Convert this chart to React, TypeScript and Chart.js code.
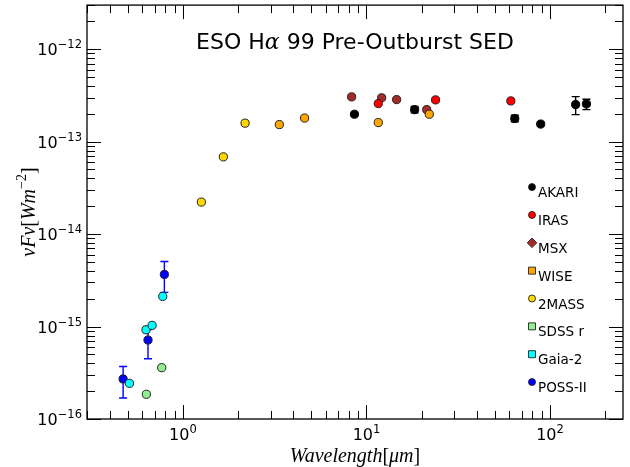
import React, { useEffect, useRef } from "react";
import { Chart, registerables } from "chart.js";

Chart.register(...registerables);

// ---- axis limits and tick labels ----
const xLimits = [0.3, 250];
const yLimits = [1e-16, 3e-12];
const xMajorTicks = [1, 10, 100];
const xTickExponents = ["0", "1", "2"];
const yMajorTicks = [1e-16, 1e-15, 1e-14, 1e-13, 1e-12];
const yTickExponents = ["\u221216", "\u221215", "\u221214", "\u221213", "\u221212"];

// ---- series (wavelength in micron, nuFnu in W m^-2) ----
const akariWl = [8.6, 18.3, 64.3, 89, 138, 158];
const akariFlux = [1.98e-13, 2.22e-13, 1.78e-13, 1.55e-13, 2.52e-13, 2.56e-13];
const akariErrLow = [null, 2.05e-13, 1.64e-13, null, 1.96e-13, 2.22e-13];
const akariErrHigh = [null, 2.4e-13, 1.93e-13, null, 3.07e-13, 2.88e-13];

const irasWl = [11.6, 23.8, 61.2];
const irasFlux = [2.58e-13, 2.83e-13, 2.76e-13];

const msxWl = [8.3, 12.1, 14.6, 21.3];
const msxFlux = [3.05e-13, 2.98e-13, 2.85e-13, 2.22e-13];

const wiseWl = [3.35, 4.6, 11.6, 22.0];
const wiseFlux = [1.53e-13, 1.8e-13, 1.61e-13, 1.98e-13];

const tmassWl = [1.26, 1.66, 2.18];
const tmassFlux = [2.22e-14, 6.85e-14, 1.585e-13];

const sdssWl = [0.632, 0.766];
const sdssFlux = [1.85e-16, 3.59e-16];

const gaiaWl = [0.511, 0.629, 0.679, 0.776];
const gaiaFlux = [2.43e-16, 9.23e-16, 1.03e-15, 2.12e-15];

const possWl = [0.472, 0.645, 0.792];
const possFlux = [2.71e-16, 7.15e-16, 3.66e-15];
const possErrLow = [1.69e-16, 4.49e-16, 2.34e-15];
const possErrHigh = [3.7e-16, 9.3e-16, 5.06e-15];

const seriesLabels = ["AKARI", "IRAS", "MSX", "WISE", "2MASS", "SDSS r", "Gaia-2", "POSS-II"];
const seriesColors = ["#000000", "#ff0000", "#a52a2a", "#ffa500", "#ffd700", "#90ee90", "#00ffff", "#0000ff"];
const legendShapes = ["circle", "circle", "diamond", "square", "circle", "square", "square", "circle"];
const drawOrder = [2, 1, 6, 3, 4, 5, 4, 7];

const seriesWl = [akariWl, irasWl, msxWl, wiseWl, tmassWl, sdssWl, gaiaWl, possWl];
const seriesFlux = [akariFlux, irasFlux, msxFlux, wiseFlux, tmassFlux, sdssFlux, gaiaFlux, possFlux];

const errorBarSets = [
  { index: 0, low: akariErrLow, high: akariErrHigh },
  { index: 7, low: possErrLow, high: possErrHigh },
];

const titleParts = ["ESO H", "\u03b1", " 99 Pre-Outburst SED"];

const SANS = "'DejaVu Sans', sans-serif";
const SERIF_IT = "italic 20px 'Liberation Serif', serif";
const SERIF_UP = "20px 'Liberation Serif', serif";

function drawPow(ctx: CanvasRenderingContext2D, x: number, y: number, exp: string, align: string) {
  const base = "10";
  ctx.font = `16px ${SANS}`;
  const wb = ctx.measureText(base).width;
  ctx.font = `11.5px ${SANS}`;
  const we = ctx.measureText(exp).width;
  const total = wb + we;
  let x0 = x;
  if (align === "center") x0 = x - total / 2;
  else if (align === "right") x0 = x - total;
  ctx.textAlign = "left";
  ctx.textBaseline = "alphabetic";
  ctx.font = `16px ${SANS}`;
  ctx.fillText(base, x0, y);
  ctx.font = `11.5px ${SANS}`;
  ctx.fillText(exp, x0 + wb, y - 7);
}

function tickValues(min: number, max: number) {
  const out: { v: number; major: boolean }[] = [];
  const e0 = Math.floor(Math.log10(min));
  const e1 = Math.ceil(Math.log10(max));
  for (let e = e0; e <= e1; e++) {
    for (let m = 1; m <= 9; m++) {
      const v = m * Math.pow(10, e);
      if (v >= min * (1 - 1e-9) && v <= max * (1 + 1e-9)) out.push({ v, major: m === 1 });
    }
  }
  return out;
}

const errorBarPlugin = {
  id: "errorBars",
  beforeDatasetsDraw(chart: any) {
    const ctx = chart.ctx;
    const xs = chart.scales.x;
    const ys = chart.scales.y;
    ctx.save();
    errorBarSets.forEach((set) => {
      const color = seriesColors[set.index];
      const wl = seriesWl[set.index];
      ctx.strokeStyle = color;
      ctx.lineWidth = 1.4;
      wl.forEach((w, i) => {
        const lo = set.low[i];
        const hi = set.high[i];
        if (lo == null || hi == null) return;
        const px = xs.getPixelForValue(w);
        const pl = ys.getPixelForValue(lo);
        const ph = ys.getPixelForValue(hi);
        ctx.beginPath();
        ctx.moveTo(px, pl);
        ctx.lineTo(px, ph);
        ctx.moveTo(px - 4, pl);
        ctx.lineTo(px + 4, pl);
        ctx.moveTo(px - 4, ph);
        ctx.lineTo(px + 4, ph);
        ctx.stroke();
      });
    });
    ctx.restore();
  },
};

const framePlugin = {
  id: "frame",
  afterDraw(chart: any) {
    const ctx: CanvasRenderingContext2D = chart.ctx;
    const a = chart.chartArea;
    const xs = chart.scales.x;
    const ys = chart.scales.y;
    ctx.save();
    // ticks
    ctx.strokeStyle = "#000";
    ctx.lineWidth = 1;
    ctx.beginPath();
    tickValues(xLimits[0], xLimits[1]).forEach((t) => {
      const px = Math.round(xs.getPixelForValue(t.v)) + 0.5;
      const len = t.major ? 14 : 8;
      ctx.moveTo(px, a.bottom);
      ctx.lineTo(px, a.bottom - len);
      ctx.moveTo(px, a.top);
      ctx.lineTo(px, a.top + len);
    });
    tickValues(yLimits[0], yLimits[1]).forEach((t) => {
      const py = Math.round(ys.getPixelForValue(t.v)) + 0.5;
      const len = t.major ? 14 : 8;
      ctx.moveTo(a.left, py);
      ctx.lineTo(a.left + len, py);
      ctx.moveTo(a.right, py);
      ctx.lineTo(a.right - len, py);
    });
    ctx.stroke();
    // spines
    ctx.lineWidth = 1.3;
    ctx.strokeRect(a.left, a.top, a.right - a.left, a.bottom - a.top);

    // tick labels
    ctx.fillStyle = "#000";
    xMajorTicks.forEach((v, i) => {
      drawPow(ctx, xs.getPixelForValue(v), a.bottom + 21, xTickExponents[i], "center");
    });
    yMajorTicks.forEach((v, i) => {
      drawPow(ctx, a.left - 5, ys.getPixelForValue(v) + 6, yTickExponents[i], "right");
    });

    // title
    const cx = (a.left + a.right) / 2;
    const fonts = [`22px ${SANS}`, `italic 22px 'DejaVu Serif', serif`, `22px ${SANS}`];
    const widths = titleParts.map((p, i) => {
      ctx.font = fonts[i];
      return ctx.measureText(p).width;
    });
    let tx = cx - widths.reduce((s, w) => s + w, 0) / 2;
    ctx.textAlign = "left";
    ctx.textBaseline = "alphabetic";
    titleParts.forEach((p, i) => {
      ctx.font = fonts[i];
      ctx.fillText(p, tx, a.top + 44);
      tx += widths[i];
    });

    // x axis label
    const xparts = [
      { t: "Wavelength", f: SERIF_IT },
      { t: "[", f: SERIF_UP },
      { t: "\u03bcm", f: SERIF_IT },
      { t: "]", f: SERIF_UP },
    ];
    const xw = xparts.map((p) => {
      ctx.font = p.f;
      return ctx.measureText(p.t).width;
    });
    let lx = cx - xw.reduce((s, w) => s + w, 0) / 2;
    const ly = a.bottom + 43;
    xparts.forEach((p, i) => {
      ctx.font = p.f;
      ctx.fillText(p.t, lx, ly);
      lx += xw[i];
    });

    // y axis label (rotated)
    ctx.save();
    ctx.translate(35, (a.top + a.bottom) / 2);
    ctx.rotate(-Math.PI / 2);
    const parts = [
      { t: "\u03bdF\u03bd", f: SERIF_IT, dy: 0 },
      { t: "[", f: SERIF_UP, dy: 0 },
      { t: "Wm", f: SERIF_IT, dy: 0 },
      { t: "\u22122", f: "14px 'Liberation Serif', serif", dy: -9 },
      { t: "]", f: SERIF_UP, dy: 0 },
    ];
    const pw = parts.map((p) => {
      ctx.font = p.f;
      return ctx.measureText(p.t).width;
    });
    let yx = -pw.reduce((s, w) => s + w, 0) / 2;
    parts.forEach((p, i) => {
      ctx.font = p.f;
      ctx.fillText(p.t, yx, p.dy);
      yx += pw[i];
    });
    ctx.restore();

    // legend
    const lgX = a.right - 91;
    const lgY0 = a.top + 182;
    const step = 27.85;
    seriesLabels.forEach((label, i) => {
      const my = lgY0 + i * step;
      ctx.fillStyle = seriesColors[i];
      ctx.strokeStyle = "#222";
      ctx.lineWidth = 0.9;
      ctx.beginPath();
      const shape = legendShapes[i];
      if (shape === "circle") {
        ctx.arc(lgX, my, 3.5, 0, Math.PI * 2);
      } else if (shape === "square") {
        ctx.rect(lgX - 3.5, my - 3.5, 7, 7);
      } else {
        ctx.moveTo(lgX, my - 4.8);
        ctx.lineTo(lgX + 4.8, my);
        ctx.lineTo(lgX, my + 4.8);
        ctx.lineTo(lgX - 4.8, my);
        ctx.closePath();
      }
      ctx.fill();
      ctx.stroke();
      ctx.fillStyle = "#000";
      ctx.font = `13.5px ${SANS}`;
      ctx.textAlign = "left";
      ctx.textBaseline = "alphabetic";
      ctx.fillText(label, lgX + 6, my + 10);
    });
    ctx.restore();
  },
};

export default function App() {
  const ref = useRef<HTMLCanvasElement | null>(null);
  useEffect(() => {
    document.body.style.margin = "0";
    const canvas = ref.current;
    if (!canvas) return;
    const datasets = seriesLabels.map((label, i) => ({
      label,
      data: seriesWl[i].map((w, j) => ({ x: w, y: seriesFlux[i][j] })),
      backgroundColor: seriesColors[i],
      borderColor: i === 0 ? "#000" : "#222",
      borderWidth: 1,
      pointRadius: 4.1,
      pointHoverRadius: 4.1,
      order: drawOrder[i],
    }));
    const chart = new Chart(canvas, {
      type: "scatter",
      data: { datasets },
      options: {
        animation: false,
        responsive: false,
        devicePixelRatio: 1,
        events: [],
        layout: { padding: { left: 87, top: 5, right: 7, bottom: 48 } },
        plugins: { legend: { display: false }, tooltip: { enabled: false }, title: { display: false } },
        scales: {
          x: { type: "logarithmic", min: xLimits[0], max: xLimits[1], display: false },
          y: { type: "logarithmic", min: yLimits[0], max: yLimits[1], display: false },
        },
      },
      plugins: [errorBarPlugin, framePlugin],
    });
    return () => chart.destroy();
  }, []);
  return (
    <div style={{ width: 630, height: 467, background: "#fff" }}>
      <canvas ref={ref} width={630} height={467} style={{ display: "block" }} />
    </div>
  );
}
